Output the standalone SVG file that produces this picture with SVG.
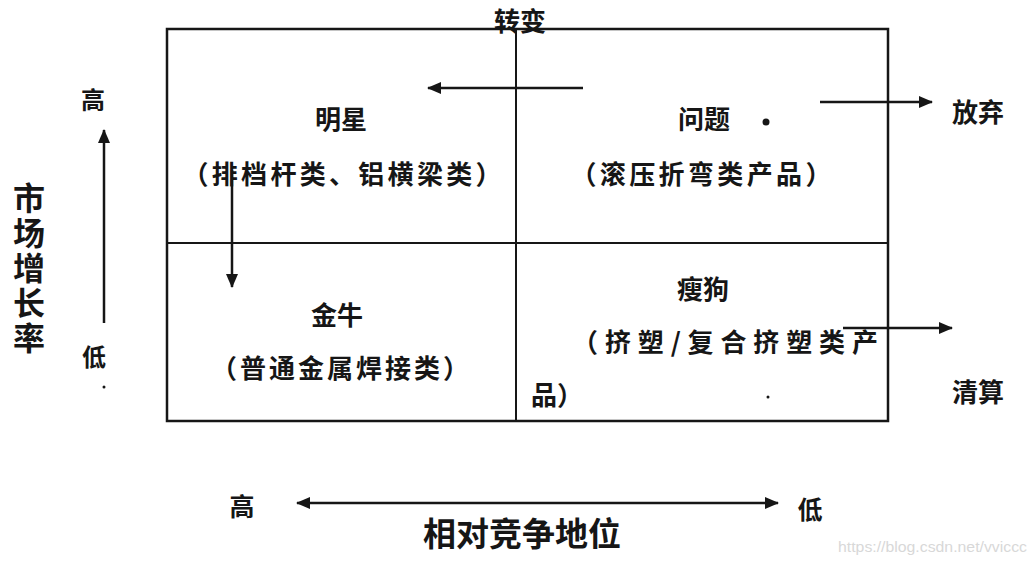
<svg xmlns="http://www.w3.org/2000/svg" width="1036" height="564" viewBox="0 0 1036 564">
<style>
.t{font-family:"Noto Sans CJK SC","Noto Sans",sans-serif;font-weight:700;fill:#161616;text-anchor:middle;dominant-baseline:central}
.l{font-size:26px}
.frame{fill:none;stroke:#161616;stroke-width:2.5}
.div{stroke:#161616;stroke-width:2}
.arr{stroke:#161616;stroke-width:2.5;fill:none}
.wm{font-family:"Liberation Sans",Arial,sans-serif;font-size:14px;fill:#d8d8d8}
.v{font-family:"Noto Sans CJK SC","Noto Sans",sans-serif;font-weight:700;fill:#161616;font-size:32px;writing-mode:vertical-rl;letter-spacing:3px}
</style>
<defs>
<marker id="ah" markerUnits="userSpaceOnUse" markerWidth="14" markerHeight="12" refX="13" refY="6" orient="auto-start-reverse">
<path d="M0,0 L14,6 L0,12 Z" fill="#161616"/>
</marker>
</defs>
<rect width="1036" height="564" fill="#ffffff"/>
<g id="matrix">
<rect class="frame" x="167" y="29" width="721" height="392"/>
<line class="div" x1="516" y1="29" x2="516" y2="421"/>
<line class="div" x1="167" y1="243" x2="888" y2="243"/>
</g>
<g id="star">
<text class="t l" x="341" y="117">明星</text>
<text class="t l" x="342" y="172" textLength="319" lengthAdjust="spacing">（排档杆类、铝横梁类）</text>
</g>
<g id="question">
<text class="t l" x="704" y="117">问题</text>
<circle cx="766" cy="122" r="3.5" fill="#161616"/>
<text class="t l" x="701" y="172" textLength="261" lengthAdjust="spacing">（滚压折弯类产品）</text>
</g>
<g id="cashcow">
<text class="t l" x="337" y="313">金牛</text>
<text class="t l" x="340" y="366" textLength="258" lengthAdjust="spacing">（普通金属焊接类）</text>
</g>
<g id="dog">
<text class="t l" x="703" y="287">瘦狗</text>
<text class="t l" x="572" y="340" style="text-anchor:start" textLength="306" lengthAdjust="spacing">（挤塑/复合挤塑类产</text>
<text class="t l" x="531" y="393" style="text-anchor:start">品）</text>
<circle cx="768" cy="397" r="1.5" fill="#161616"/>
</g>
<g id="transform">
<text class="t l" x="520" y="19">转变</text>
</g>
<g id="abandon">
<text class="t l" x="978" y="110">放弃</text>
</g>
<g id="liquidate">
<text class="t l" x="978" y="390">清算</text>
</g>
<g id="y-axis">
<text class="t" style="font-size:24px" x="93" y="98">高</text>
<text class="t" style="font-size:24px" x="94" y="355">低</text>
<circle cx="104" cy="387" r="1.5" fill="#161616"/>
<text class="v" x="29" y="182">市场增长率</text>
</g>
<g id="x-axis">
<text class="t" style="font-size:25px" x="242" y="505">高</text>
<text class="t" style="font-size:25px" x="810" y="508">低</text>
<text class="t" style="font-size:33px" x="522" y="532">相对竞争地位</text>
</g>
<g id="connectors">
<line class="arr" x1="583" y1="88" x2="428" y2="88" marker-end="url(#ah)"/>
<line class="arr" x1="232" y1="170" x2="232" y2="287" marker-end="url(#ah)"/>
<line class="arr" x1="820" y1="102" x2="932" y2="102" marker-end="url(#ah)"/>
<line class="arr" x1="843" y1="328" x2="952" y2="328" marker-end="url(#ah)"/>
<line class="arr" x1="104" y1="323" x2="104" y2="130" marker-end="url(#ah)"/>
<line class="arr" x1="297" y1="503" x2="778" y2="503" marker-start="url(#ah)" marker-end="url(#ah)"/>
</g>
<text class="wm" x="838" y="552" textLength="189" lengthAdjust="spacingAndGlyphs">https://blog.csdn.net/vviccc</text>
</svg>
